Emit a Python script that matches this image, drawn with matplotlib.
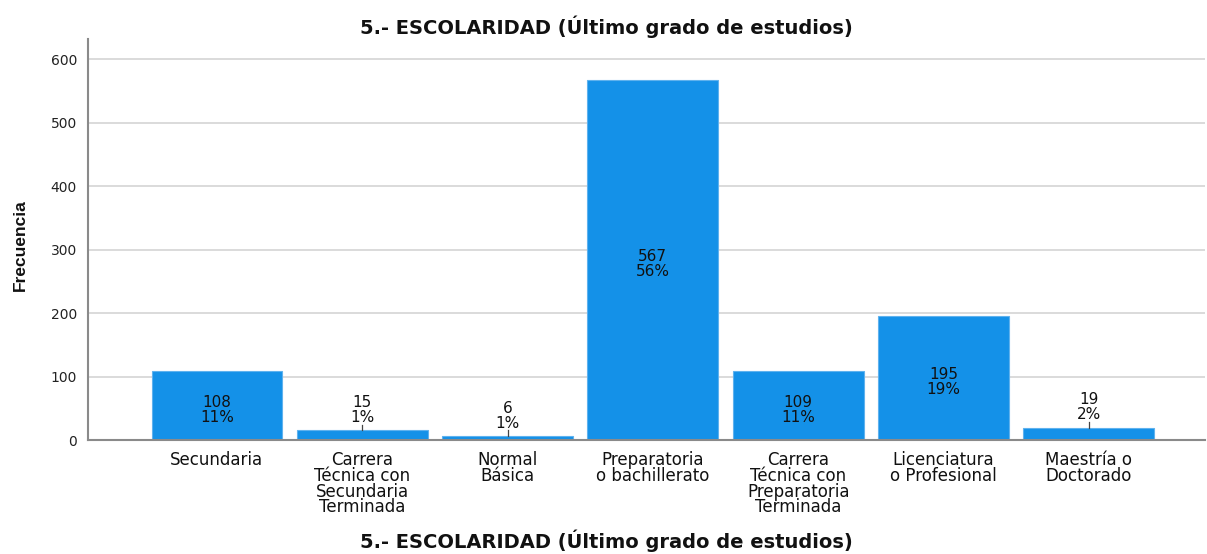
import matplotlib
matplotlib.use("Agg")
import matplotlib.pyplot as plt
from matplotlib import font_manager

categories = ["Secundaria",
              "Carrera\nTécnica con\nSecundaria\nTerminada",
              "Normal\nBásica",
              "Preparatoria\no bachillerato",
              "Carrera\nTécnica con\nPreparatoria\nTerminada",
              "Licenciatura\no Profesional",
              "Maestría o\nDoctorado"]
counts = [108, 15, 6, 567, 109, 195, 19]
percents = [11, 1, 1, 56, 11, 19, 2]
yticks = [0, 100, 200, 300, 400, 500, 600]
title = "5.- ESCOLARIDAD (Último grado de estudios)"
ylabel = "Frecuencia"

names = {f.name for f in font_manager.fontManager.ttflist}
narrow = "Liberation Sans Narrow" if "Liberation Sans Narrow" in names else "Liberation Sans"
plt.rcParams['font.family'] = ['DejaVu Sans']

W, H = 1207, 554
fig = plt.figure(figsize=(W / 100, H / 100), dpi=100)
ax = fig.add_axes([88 / W, 1 - 440 / H, (1205 - 88) / W, (440 - 39) / H])

x = list(range(len(categories)))
bar_color = "#1491e8"
ax.bar(x, counts, width=0.9, color=bar_color, edgecolor="#5fb2ee", linewidth=0.8, zorder=2)

ax.set_xlim(-0.887, 6.8)
ax.set_ylim(0, 632)
ax.set_yticks(yticks)
ax.set_yticklabels([str(v) for v in yticks], fontsize=10, color="#222222")
ax.set_xticks(x)
ax.set_xticklabels(categories, fontsize=12, color="#111111", linespacing=0.84)
ax.tick_params(axis="both", length=0)
ax.tick_params(axis="x", pad=8)
ax.tick_params(axis="y", pad=8)

ax.grid(axis="y", color="#d4d4d4", linewidth=1.2, zorder=0)
ax.set_axisbelow(True)
for s in ["top", "right"]:
    ax.spines[s].set_visible(False)
for s in ["left", "bottom"]:
    ax.spines[s].set_color("#8a8a8a")
    ax.spines[s].set_linewidth(1.5)
ax.spines["bottom"].set_zorder(3)

for xi, c, p in zip(x, counts, percents):
    lab = f"{c}\n{p}%"
    if c >= 50:
        ax.annotate(lab, (xi, c / 2), xytext=(0, -3), textcoords="offset points",
                    ha="center", va="center", fontsize=11, color="#111111",
                    linespacing=1.0, zorder=4)
    else:
        ax.plot([xi, xi], [c, c + 9], color="#444444", linewidth=0.9, zorder=4)
        ax.annotate(lab, (xi, c), xytext=(0, 4), textcoords="offset points",
                    ha="center", va="bottom", fontsize=11, color="#111111",
                    linespacing=1.0, zorder=4)

fig.text(606 / W, 1 - 27 / H, title, ha="center", va="center",
         fontsize=14, fontweight="bold", color="#111111")
fig.text(606 / W, 1 - 541 / H, title, ha="center", va="center",
         fontsize=14, fontweight="bold", color="#111111")
fig.text(20 / W, 1 - 245 / H, ylabel, ha="center", va="center", rotation=90,
         fontsize=12.5, fontweight="bold", color="#111111", family=[narrow, 'DejaVu Sans'])

fig.savefig("out.png", dpi=100)
